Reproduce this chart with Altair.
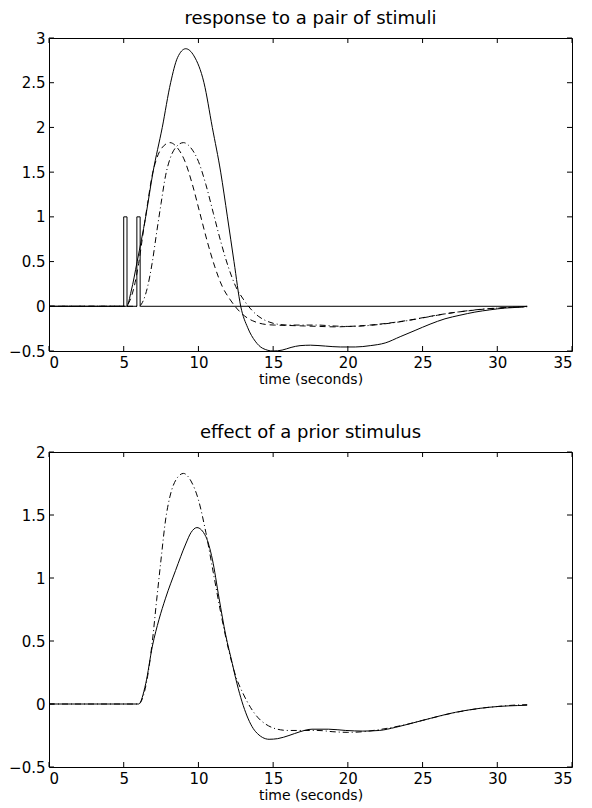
import altair as alt
import pandas as pd

FONT = "DejaVu Sans"
W = 523
H1 = 313
H2 = 315
TICK = 5

# ---------------- data ----------------
x_ticks = [0, 5, 10, 15, 20, 25, 30, 35]
y_ticks_top = [-0.5, 0, 0.5, 1, 1.5, 2, 2.5, 3]
y_ticks_bot = [-0.5, 0, 0.5, 1, 1.5, 2]

# stimulus train (two brief stimuli)
stim_t = [0, 5.0, 5.0, 5.22, 5.22, 5.88, 5.88, 6.1, 6.1, 32.0]
stim_v = [0, 0, 1, 1, 0, 0, 1, 1, 0, 0]

# response to the pair (solid, top)
pair_t = [0, 5.2, 5.5, 5.9, 6.47, 6.96, 7.58, 8.14, 8.6, 9.15,
          9.7, 10.37, 10.93, 11.49, 11.94, 12.38, 12.83, 13.3, 13.8, 14.3,
          15.0, 15.6, 16.2, 16.8, 17.5, 18.5, 19.5, 20.5, 21.5, 22.5,
          23.5, 24.5, 25.5, 26.5, 27.5, 28.5, 29.5, 30.5, 31.5, 32.0]
pair_v = [0, 0, 0.17, 0.5, 1.0, 1.5, 2.0, 2.5, 2.78, 2.88,
          2.8, 2.5, 2.0, 1.5, 1.0, 0.5, 0.0, -0.24, -0.39, -0.47,
          -0.5, -0.49, -0.46, -0.44, -0.435, -0.445, -0.455, -0.455, -0.44, -0.41,
          -0.34, -0.27, -0.2, -0.14, -0.1, -0.065, -0.04, -0.02, -0.01, 0.0]

# response to the first stimulus alone (dashed, top)
first_t = [0, 5.1, 5.4, 5.7, 6.0, 6.3, 6.6, 6.9, 7.2, 7.6,
           8.1, 8.6, 9.1, 9.6, 10.1, 10.6, 11.1, 11.6, 12.1, 12.6,
           13.1, 13.6, 14.1, 14.6, 15.1, 16.1, 17.1, 18.1, 19.1, 20.1,
           21.1, 22.1, 23.1, 24.1, 25.1, 26.1, 27.1, 28.1, 29.1, 30.1,
           31.1, 32.0]
first_v = [0, 0, 0.06, 0.22, 0.48, 0.82, 1.15, 1.46, 1.65, 1.78,
           1.83, 1.77, 1.62, 1.36, 1.04, 0.72, 0.44, 0.22, 0.08, -0.03,
           -0.11, -0.16, -0.19, -0.205, -0.21, -0.215, -0.22, -0.225, -0.23, -0.225,
           -0.215, -0.2, -0.18, -0.155, -0.125, -0.095, -0.07, -0.05, -0.032, -0.02,
           -0.01, -0.005]

# response to the second stimulus alone (dash-dot, both panels)
second_t = [0, 6.0, 6.3, 6.6, 6.9, 7.2, 7.5, 7.8, 8.1, 8.5,
            9.0, 9.5, 10.0, 10.5, 11.0, 11.5, 12.0, 12.5, 13.0, 13.5,
            14.0, 14.5, 15.0, 15.5, 16.0, 17.0, 18.0, 19.0, 20.0, 21.0,
            22.0, 23.0, 24.0, 25.0, 26.0, 27.0, 28.0, 29.0, 30.0, 31.0, 32.0]
second_v = [0, 0, 0.06, 0.22, 0.48, 0.82, 1.15, 1.46, 1.65, 1.78,
            1.83, 1.77, 1.62, 1.36, 1.04, 0.72, 0.44, 0.22, 0.08, -0.03,
            -0.11, -0.16, -0.19, -0.205, -0.21, -0.21, -0.21, -0.22, -0.225, -0.22,
            -0.205, -0.185, -0.16, -0.13, -0.1, -0.072, -0.05, -0.032, -0.02, -0.01, -0.005]

# effect of the second stimulus given a prior stimulus (solid, bottom)
prior_t = [0, 6.0, 6.47, 6.92, 7.36, 7.8, 8.47, 9.15, 9.5, 9.9,
           10.49, 10.93, 11.38, 11.82, 12.27, 12.5, 13.17, 13.83, 14.73, 15.3,
           16.06, 16.8, 17.6, 18.7, 19.86, 21.0, 22.1, 23.2, 25.0, 27.2,
           29.45, 32.0]
prior_v = [0, 0, 0.16, 0.46, 0.67, 0.84, 1.06, 1.27, 1.36, 1.40,
           1.33, 1.15, 0.84, 0.55, 0.32, 0.2, -0.07, -0.22, -0.28, -0.275,
           -0.25, -0.22, -0.2, -0.2, -0.21, -0.215, -0.21, -0.185, -0.13, -0.066,
           -0.026, -0.01]


def sdf(t, v):
    return pd.DataFrame({"t": t, "v": v, "i": list(range(len(t)))})


def panel(title, ydom, yt, H, series):
    xs = alt.Scale(domain=[0, 35], nice=False, zero=False)
    ys = alt.Scale(domain=ydom, nice=False, zero=False)
    xax = alt.Axis(values=x_ticks, format="d", grid=False, ticks=False, domain=False,
                   labelPadding=4, title="time (seconds)", titlePadding=2,
                   labelFontSize=15, titleFontSize=14, titleFontWeight="normal",
                   labelFont=FONT, titleFont=FONT, labelColor="black", titleColor="black")
    yax = alt.Axis(values=yt, format="~g", grid=False, ticks=False, domain=False,
                   labelPadding=4, title=None, labelFontSize=15, labelFont=FONT,
                   labelColor="black")
    layers = []
    for (t, v, dash, interp) in series:
        mk = dict(color="black", strokeWidth=1, interpolate=interp)
        if dash:
            mk["strokeDash"] = dash
        layers.append(
            alt.Chart(sdf(t, v)).mark_line(**mk).encode(
                x=alt.X("t:Q", scale=xs, axis=xax),
                y=alt.Y("v:Q", scale=ys, axis=yax),
                order=alt.Order("i:Q"),
            )
        )
    xt = pd.DataFrame({"t": x_ticks})
    ytd = pd.DataFrame({"v": yt})
    rule = dict(color="black", strokeWidth=1)
    layers.append(alt.Chart(xt).mark_rule(**rule).encode(
        x=alt.X("t:Q", scale=xs, axis=xax), y=alt.value(H), y2=alt.value(H - TICK)))
    layers.append(alt.Chart(xt).mark_rule(**rule).encode(
        x=alt.X("t:Q", scale=xs, axis=xax), y=alt.value(0), y2=alt.value(TICK)))
    layers.append(alt.Chart(ytd).mark_rule(**rule).encode(
        y=alt.Y("v:Q", scale=ys, axis=yax), x=alt.value(0), x2=alt.value(TICK)))
    layers.append(alt.Chart(ytd).mark_rule(**rule).encode(
        y=alt.Y("v:Q", scale=ys, axis=yax), x=alt.value(W), x2=alt.value(W - TICK)))
    return alt.layer(*layers).properties(
        width=W, height=H,
        title=alt.TitleParams(title, font=FONT, fontSize=18, fontWeight="normal",
                              color="black", anchor="middle", offset=3),
    )


DASH = [6, 4]
DASHDOT = [6, 3, 1, 3]

top = panel("response to a pair of stimuli", [-0.5, 3], y_ticks_top, H1, [
    (stim_t, stim_v, None, "linear"),
    (pair_t, pair_v, None, "monotone"),
    (first_t, first_v, DASH, "monotone"),
    (second_t, second_v, DASHDOT, "monotone"),
])

bottom = panel("effect of a prior stimulus", [-0.5, 2], y_ticks_bot, H2, [
    (prior_t, prior_v, None, "monotone"),
    (second_t, second_v, DASHDOT, "monotone"),
])

chart = alt.vconcat(top, bottom, spacing=36).properties(
    padding={"left": 0, "right": 5, "top": 1, "bottom": 2}
).configure(background="white").configure_view(stroke="black", strokeWidth=1)

chart.save("out.html", embed_options={"renderer": "svg", "actions": False})
